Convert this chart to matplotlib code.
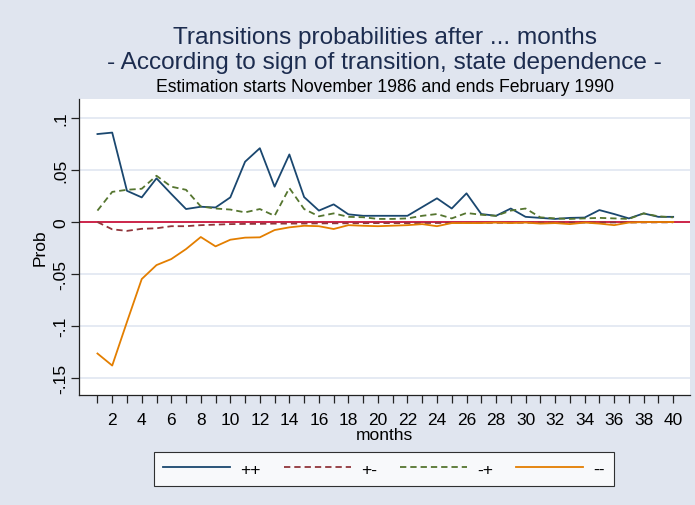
import matplotlib
matplotlib.use("Agg")
import matplotlib.pyplot as plt
import numpy as np

plt.rcParams["font.family"] = ["Liberation Sans", "DejaVu Sans"]

# data
months = list(range(1, 41))
pp = [0.0846, 0.086, 0.030, 0.0237, 0.042, 0.027, 0.0125, 0.0147, 0.014, 0.0237,
      0.058, 0.071, 0.034, 0.065, 0.024, 0.011, 0.017, 0.0074, 0.006, 0.006,
      0.006, 0.006, 0.0144, 0.0228, 0.013, 0.0276, 0.0077, 0.006, 0.013, 0.005,
      0.004, 0.003, 0.004, 0.0043, 0.0115, 0.0077, 0.0035, 0.0083, 0.005, 0.005]
pm = [0.0, -0.007, -0.0085, -0.0065, -0.006, -0.004, -0.004, -0.003, -0.0025, -0.002,
      -0.0018, -0.0017, -0.0015, -0.0015, -0.0014, -0.0013, -0.0012, -0.0012, -0.0011, -0.001,
      -0.001, -0.001, -0.0009, -0.0009, -0.0008, -0.0008, -0.0008, -0.0007, -0.0007, -0.0006,
      -0.0006, -0.0006, -0.0005, -0.0005, -0.0005, -0.0004, -0.0004, -0.0004, -0.0003, -0.0003]
mp = [0.011, 0.029, 0.031, 0.032, 0.0445, 0.034, 0.031, 0.015, 0.013, 0.012,
      0.0093, 0.0125, 0.006, 0.0327, 0.0125, 0.0055, 0.0083, 0.005, 0.0046, 0.003,
      0.003, 0.0035, 0.006, 0.0077, 0.0035, 0.0087, 0.007, 0.006, 0.011, 0.013,
      0.0045, 0.0035, 0.003, 0.0035, 0.004, 0.0035, 0.003, 0.0083, 0.0055, 0.0045]
mm = [-0.1264, -0.138, -0.096, -0.0548, -0.0414, -0.0356, -0.026, -0.0144, -0.0234, -0.017,
      -0.015, -0.0147, -0.0077, -0.0051, -0.0036, -0.004, -0.0067, -0.003, -0.0036, -0.004,
      -0.0035, -0.003, -0.002, -0.004, -0.001, -0.001, -0.001, -0.0005, -0.001, -0.0005,
      -0.0015, -0.001, -0.002, -0.0005, -0.0015, -0.003, -0.0005, 0.0, 0.0, 0.0]

yticks = [-0.15, -0.1, -0.05, 0, 0.05, 0.1]
ytick_labels = ["-.15", "-.1", "-.05", "0", ".05", ".1"]
xticks_major = list(range(2, 41, 2))

BG = "#e0e5ef"
fig = plt.figure(figsize=(6.95, 5.06), dpi=100, facecolor=BG)
ax = fig.add_axes([79 / 695, 1 - 396 / 506, (690 - 79) / 695, (396 - 100) / 506])
ax.set_facecolor("white")

for y in yticks:
    if y != 0:
        ax.axhline(y, color="#e3e8f2", lw=1.3, zorder=0)
ax.axhline(0, color="#c8143c", lw=1.3, zorder=1)

ax.plot(months, pp, color="#1a476f", lw=1.3, label="++", zorder=3)
ax.plot(months, pm, color="#90353b", lw=1.3, dashes=(3.5, 2.2), label="+-", zorder=3)
ax.plot(months, mp, color="#55752f", lw=1.3, dashes=(3.5, 2.2), label="-+", zorder=3)
ax.plot(months, mm, color="#e37e00", lw=1.3, label="--", zorder=3)

ax.set_xlim(-0.25, 41.14)
ax.set_ylim(-0.1663, 0.1183)

for s in ("top", "right"):
    ax.spines[s].set_visible(False)
for s in ("left", "bottom"):
    ax.spines[s].set_linewidth(0.9)
    ax.spines[s].set_color("#222222")

ax.set_yticks(yticks)
ax.set_yticklabels(ytick_labels, rotation=90, va="center", fontsize=12.5)
ax.set_xticks(months, minor=True)
ax.set_xticks(xticks_major)
ax.set_xticklabels([str(m) for m in xticks_major], fontsize=12.5)
ax.tick_params(axis="both", which="both", length=6, width=0.9, color="#222222")
ax.tick_params(axis="x", pad=6)
ax.tick_params(axis="y", pad=1.5)

ax.set_xlabel("months", fontsize=12.5, labelpad=0)
ax.set_ylabel("Prob", fontsize=12.5, labelpad=4)

cx = (79 + 690) / 2 / 695
fig.text(cx, 1 - 38 / 506, "Transitions probabilities after ... months",
         ha="center", va="center", fontsize=17.6, color="#1c2c4f")
fig.text(cx, 1 - 63 / 506, "- According to sign of transition, state dependence -",
         ha="center", va="center", fontsize=17.6, color="#1c2c4f")
fig.text(cx, 1 - 87 / 506, "Estimation starts November 1986 and ends February 1990",
         ha="center", va="center", fontsize=12.7, color="black")

leg = fig.legend(loc="center", bbox_to_anchor=(384 / 695, 1 - 470 / 506), ncol=4,
                 fontsize=12.5, frameon=True, fancybox=False, handlelength=3.85,
                 handletextpad=0.57, columnspacing=1.35, borderpad=0.55)
leg.get_frame().set_edgecolor("black")
leg.get_frame().set_linewidth(0.8)
leg.get_frame().set_facecolor("white")

fig.savefig("out.png", dpi=100, facecolor=BG)
